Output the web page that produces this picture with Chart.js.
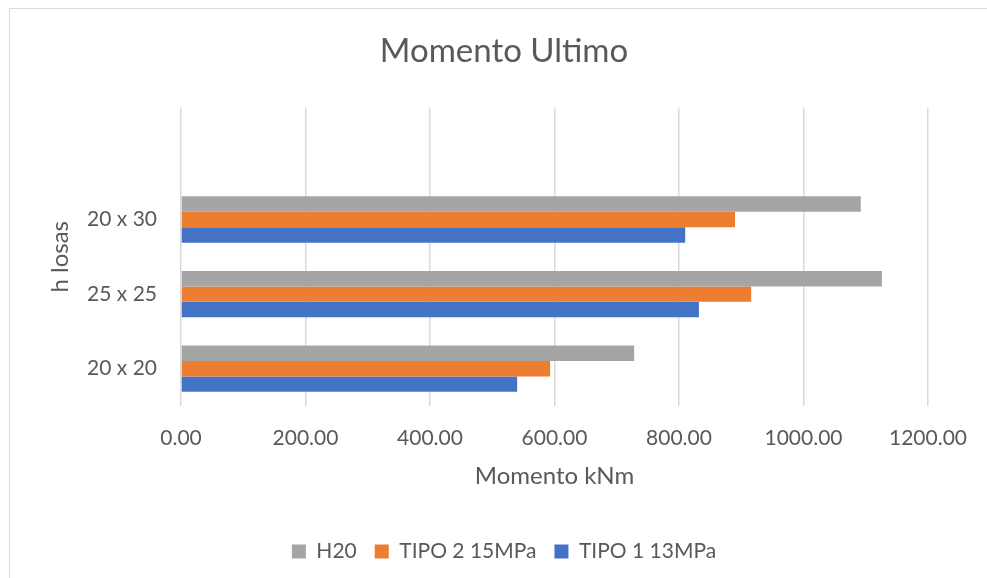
<!DOCTYPE html>
<html>
<head>
<meta charset="utf-8">
<title>Momento Ultimo</title>
<script src="https://cdn.jsdelivr.net/npm/chart.js@4.4.0/dist/chart.umd.min.js"></script>
<style>
    body { margin: 0; background: #fff; overflow: hidden; }
    #wrap { position: relative; width: 987px; height: 578px; overflow: hidden; }
    #frame { position: absolute; left: 9px; top: 8px; width: 1000px; height: 600px; border: 1px solid #d9d9d9; }
    #chart { position: absolute; left: 0; top: 0; }
</style>
</head>
<body>
<div id="wrap">
    <div id="frame"></div>
    <canvas id="chart" width="987" height="578"></canvas>
</div>
<script>
// categories top to bottom (first row is empty in the sheet)
var categories = ['', '20 x 30', '25 x 25', '20 x 20'];
var h20 = [null, 1092, 1126, 728];
var tipo2 = [null, 890, 916, 593];
var tipo1 = [null, 810, 832, 540];
var xTicks = [0, 200, 400, 600, 800, 1000, 1200];

var textColor = '#595959';
var fontFamily = 'Lato, "Open Sans", sans-serif';

//** Bar chart */
var ctx = document.getElementById('chart').getContext('2d');
var chart = new Chart(ctx, {
    type: 'bar',
    data: {
        labels: categories,
        datasets: [{
            label: 'H20',
            data: h20,
            backgroundColor: '#a5a5a5'
        }, {
            label: 'TIPO 2 15MPa',
            data: tipo2,
            backgroundColor: '#ed7d31'
        }, {
            label: 'TIPO 1 13MPa',
            data: tipo1,
            backgroundColor: '#4472c4'
        }]
    },
    options: {
        indexAxis: 'y',
        responsive: false,
        animation: false,
        categoryPercentage: 0.62,
        barPercentage: 1,
        layout: {
            padding: { left: 21, right: 0, top: 0, bottom: 6 }
        },
        plugins: {
            title: {
                display: true,
                text: 'Momento Ultimo',
                color: textColor,
                font: { family: fontFamily, size: 33, weight: 'normal', lineHeight: 1.2 },
                padding: { top: 32, bottom: 36 }
            },
            legend: {
                position: 'bottom',
                labels: {
                    color: textColor,
                    boxWidth: 14,
                    boxHeight: 14,
                    padding: 18,
                    font: { family: fontFamily, size: 21 }
                }
            },
            tooltip: { enabled: false }
        },
        scales: {
            x: {
                min: xTicks[0],
                max: xTicks[xTicks.length - 1],
                afterBuildTicks: function(scale) {
                    scale.ticks = xTicks.map(function(v) { return { value: v }; });
                },
                afterFit: function(scale) {
                    // keep the plot bottom where the sheet has it
                    scale.height = 117;
                },
                grid: { color: '#d9d9d9', lineWidth: 1.5, drawTicks: false },
                border: { display: false },
                ticks: {
                    color: textColor,
                    padding: 20,
                    font: { family: fontFamily, size: 21 },
                    callback: function(val) { return Number(val).toFixed(2); }
                },
                title: {
                    display: true,
                    text: 'Momento kNm',
                    color: textColor,
                    font: { family: fontFamily, size: 24 },
                    padding: { top: 0, bottom: 32 }
                }
            },
            y: {
                afterFit: function(scale) {
                    scale.width = 160;
                },
                grid: { display: false, drawTicks: false },
                border: { display: false },
                ticks: {
                    color: textColor,
                    padding: 24,
                    font: { family: fontFamily, size: 21 }
                },
                title: {
                    display: true,
                    text: 'h losas',
                    color: textColor,
                    font: { family: fontFamily, size: 24 },
                    padding: { top: 25, bottom: 0 }
                }
            },
            // empty right-hand strip so the plot ends at 1200 like the sheet
            yRight: {
                type: 'category',
                position: 'right',
                display: true,
                afterFit: function(scale) {
                    scale.width = 58;
                },
                grid: { display: false, drawTicks: false },
                border: { display: false },
                ticks: { display: false }
            }
        }
    }
});
</script>
</body>
</html>
